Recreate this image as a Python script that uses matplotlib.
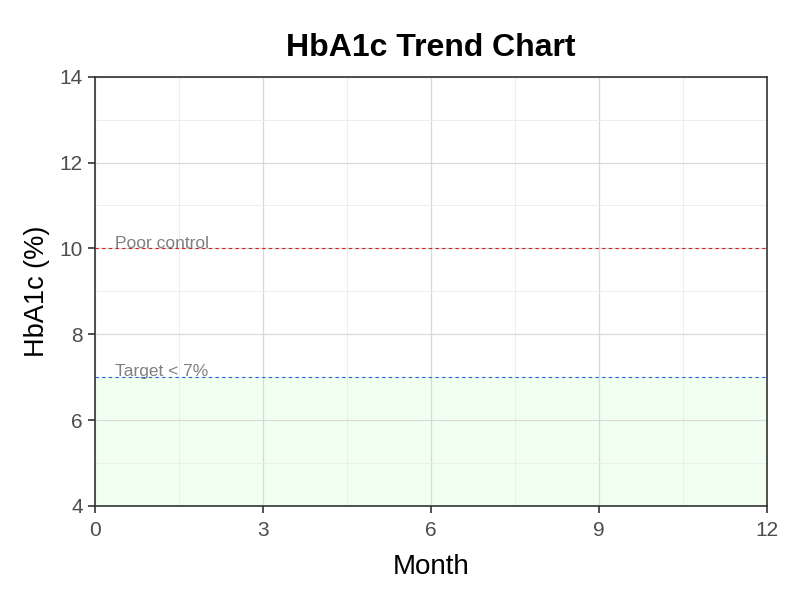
import matplotlib.pyplot as plt
import numpy as np

# Chart settings
x_ticks = [0, 3, 6, 9, 12]
y_ticks = [4, 6, 8, 10, 12, 14]
target_level = 7
poor_level = 10
target_label = 'Target < 7%'
poor_label = 'Poor control'

plt.rcParams['font.family'] = ['Liberation Sans', 'DejaVu Sans']

fig = plt.figure(figsize=(8, 6), dpi=100)
ax = fig.add_axes([0.119, 0.157, 0.84, 0.715])

ax.set_xlim(0, 12)
ax.set_ylim(4, 14)

# Target range shading
ax.axhspan(4, target_level, color='#f0fff0', alpha=0.9, zorder=0)

# Grid
ax.set_xticks(x_ticks)
ax.set_yticks(y_ticks)
ax.set_xticks(np.arange(1.5, 12, 3), minor=True)
ax.set_yticks(np.arange(5, 14, 2), minor=True)
ax.grid(which='major', color='#d9d9d9', linewidth=0.9, zorder=0.5)
ax.grid(which='minor', color='#ebebeb', linewidth=0.6, zorder=0.5)
ax.tick_params(which='minor', length=0)

# Reference lines
ax.axhline(poor_level, color='#cc2222', linestyle=(0, (3, 3)), linewidth=0.8, zorder=2)
ax.axhline(target_level, color='#1f66e0', linestyle=(0, (3, 3)), linewidth=0.8, zorder=2)
ax.text(0.35, poor_level - 0.05, poor_label, color='#808080', fontsize=12.5, va='bottom', zorder=3)
ax.text(0.35, target_level - 0.05, target_label, color='#808080', fontsize=12.5, va='bottom', zorder=3)

for s in ax.spines.values():
    s.set_color('#333333')
    s.set_linewidth(1.2)

ax.tick_params(which='major', length=5, width=1.2, color='#333333',
               labelsize=15, labelcolor='#4d4d4d', pad=4)
ax.tick_params(axis='x', which='major', pad=6)

ax.set_title('HbA1c Trend Chart', fontsize=23, fontweight='bold', pad=15)
ax.set_xlabel('Month', fontsize=20, labelpad=10)
ax.set_ylabel('HbA1c (%)', fontsize=19.5, labelpad=7)

fig.savefig('out.png', dpi=100)
